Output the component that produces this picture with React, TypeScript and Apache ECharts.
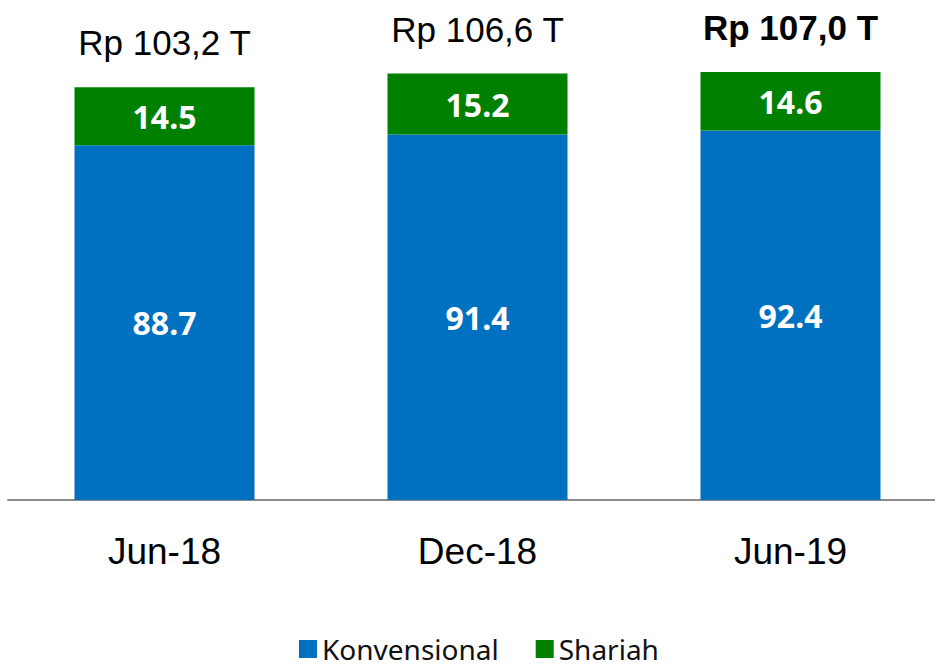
import React, { useEffect, useRef } from "react";
import * as echarts from "echarts";

const categories = ["Jun-18", "Dec-18", "Jun-19"];
const konvensional = [88.7, 91.4, 92.4];
const shariah = [14.5, 15.2, 14.6];
const totalLabels = ["Rp 103,2 T", "Rp 106,6 T", "Rp 107,0 T"];
const boldTotal = [false, false, true];

const BLUE = "#0070C0";
const GREEN = "#008000";
const SANS = "'Liberation Sans', Arial, sans-serif";
const VALUE_FONT = "'Noto Sans', 'Open Sans', sans-serif";

export default function App() {
  const ref = useRef<HTMLDivElement>(null);
  useEffect(() => {
    if (!ref.current) return;
    const chart = echarts.init(ref.current, undefined, { renderer: "svg" });
    chart.setOption({
      animation: false,
      backgroundColor: "#ffffff",
      grid: { left: 8, top: 0, width: 939, height: 500 },
      legend: {
        left: 299,
        top: 634,
        padding: 0,
        itemWidth: 18,
        itemHeight: 18,
        itemGap: 37,
        icon: "rect",
        textStyle: { fontFamily: VALUE_FONT, fontSize: 28, lineHeight: 30, color: "#111" },
        data: ["Konvensional", "Shariah"],
      },
      xAxis: {
        type: "category",
        data: categories,
        axisLine: { lineStyle: { color: "#8c8c8c", width: 2 } },
        axisTick: { show: false },
        axisLabel: { fontFamily: SANS, fontSize: 37, color: "#000", margin: 33 },
      },
      yAxis: { type: "value", min: 0, max: 125, show: false, splitLine: { show: false } },
      series: [
        {
          name: "Konvensional",
          type: "bar",
          stack: "total",
          barWidth: 180,
          itemStyle: { color: BLUE },
          data: konvensional,
          label: {
            show: true,
            position: "inside",
            color: "#fff",
            fontFamily: VALUE_FONT,
            fontWeight: "bold",
            fontSize: 32,
            formatter: (p: any) => p.value.toFixed(1),
          },
        },
        {
          name: "Shariah",
          type: "bar",
          stack: "total",
          barWidth: 180,
          itemStyle: { color: GREEN },
          data: shariah,
          label: {
            show: true,
            position: "inside",
            color: "#fff",
            fontFamily: VALUE_FONT,
            fontWeight: "bold",
            fontSize: 32,
            formatter: (p: any) => p.value.toFixed(1),
          },
        },
        {
          name: "totals",
          type: "bar",
          stack: "total",
          barWidth: 180,
          silent: true,
          itemStyle: { color: "transparent" },
          data: totalLabels.map((t, i) => ({
            value: 0,
            label: {
              show: true,
              position: "top",
              distance: 27,
              formatter: t,
              color: "#000",
              fontFamily: SANS,
              fontSize: 35,
              fontWeight: boldTotal[i] ? "bold" : "normal",
            },
          })),
        },
      ],
    });
    return () => chart.dispose();
  }, []);
  return (
    <div style={{ position: "absolute", left: 0, top: 0, width: 935, height: 667, overflow: "hidden" }}>
      <div ref={ref} style={{ width: 960, height: 667 }} />
    </div>
  );
}
